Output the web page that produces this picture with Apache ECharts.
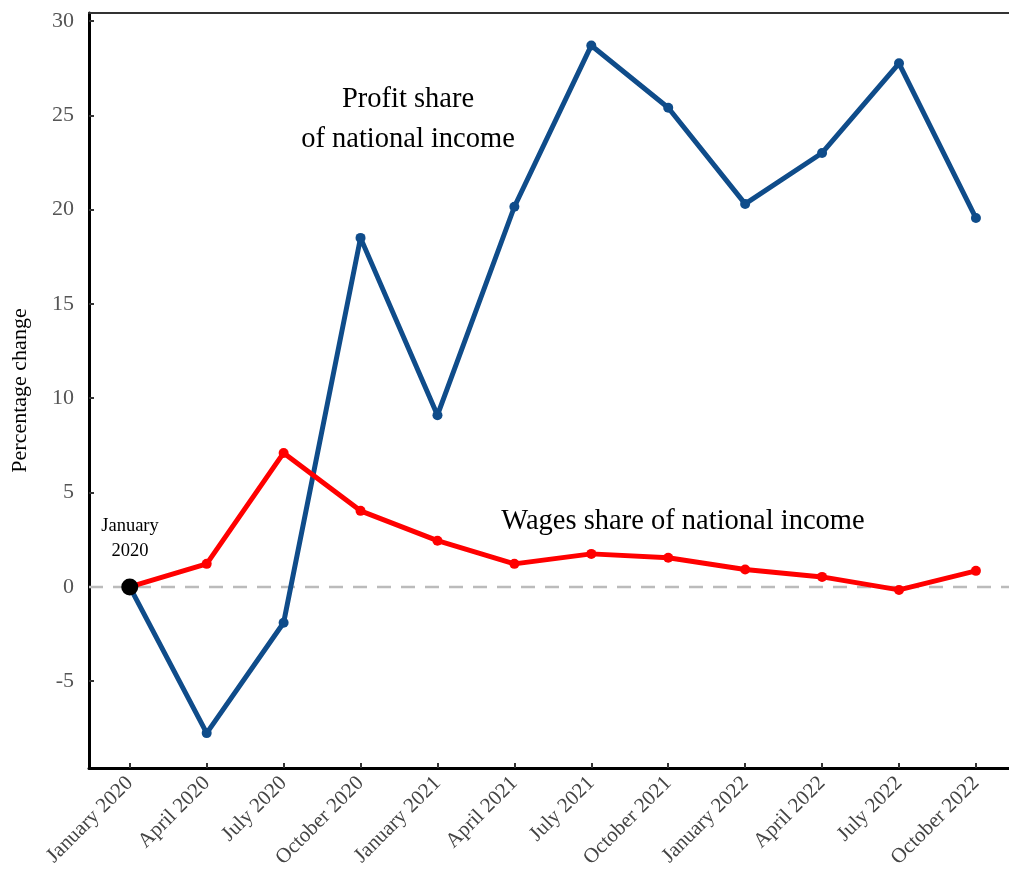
<!DOCTYPE html>
<html>
<head>
<meta charset="utf-8">
<script src="https://cdn.jsdelivr.net/npm/echarts@6/dist/echarts.min.js"></script>
<style>
  html, body { margin: 0; padding: 0; background: #fff; }
  #chart { width: 1009px; height: 878px; }
</style>
</head>
<body>
<div id="chart"></div>
<script>
var categories = ['January 2020', 'April 2020', 'July 2020', 'October 2020',
    'January 2021', 'April 2021', 'July 2021', 'October 2021',
    'January 2022', 'April 2022', 'July 2022', 'October 2022'];
var profitShare = [0, -7.75, -1.9, 18.5, 9.1, 20.15, 28.7, 25.4, 20.3, 23.0, 27.75, 19.55];
var wagesShare = [0, 1.22, 7.1, 4.03, 2.45, 1.22, 1.75, 1.54, 0.92, 0.53, -0.16, 0.85];
var yTicks = [-5, 0, 5, 10, 15, 20, 25, 30];

var serif = '"Liberation Serif", "DejaVu Serif", serif';

var chart = echarts.init(document.getElementById('chart'));

function pairs(arr) {
    return arr.map(function (v, i) { return [i, v]; });
}
var xIdx = categories.map(function (c, i) { return i; });

var option = {
    backgroundColor: '#fff',
    animation: false,
    grid: { left: 89, right: 0, top: 13, bottom: 110, outerBoundsMode: 'none', containLabel: false },
    xAxis: [{
        type: 'value',
        min: -0.53,
        max: 11.43,
        position: 'bottom',
        splitLine: { show: false },
        axisLine: { show: true, onZero: false, lineStyle: { color: '#000', width: 3 } },
        axisTick: {
            show: true, inside: true, length: 5,
            lineStyle: { color: '#333', width: 2 },
            customValues: xIdx
        },
        axisLabel: {
            rotate: 45,
            fontFamily: serif,
            fontSize: 21,
            color: '#444',
            margin: 12,
            customValues: xIdx,
            formatter: function (v) { return categories[Math.round(v)] || ''; }
        }
    }, {
        type: 'value',
        min: -0.53,
        max: 11.43,
        position: 'top',
        splitLine: { show: false },
        axisLine: { show: true, onZero: false, lineStyle: { color: '#333', width: 2 } },
        axisTick: { show: false },
        axisLabel: { show: false }
    }],
    yAxis: {
        type: 'value',
        min: -9.6,
        max: 30.42,
        name: 'Percentage change',
        nameLocation: 'middle',
        nameGap: 58,
        nameTextStyle: { fontFamily: serif, fontSize: 22, color: '#000' },
        splitLine: { show: false },
        axisLine: { show: true, onZero: false, lineStyle: { color: '#000', width: 3 } },
        axisTick: {
            show: true, inside: true, length: 5,
            lineStyle: { color: '#333', width: 2 },
            customValues: yTicks
        },
        axisLabel: {
            fontFamily: serif,
            fontSize: 22,
            color: '#555',
            margin: 15,
            customValues: yTicks
        }
    },
    series: [{
        name: 'Zero',
        type: 'line',
        data: [[-0.53, 0], [11.43, 0]],
        symbol: 'none',
        silent: true,
        z: 1,
        lineStyle: { color: '#bbb', width: 2.5, type: [14, 10] }
    }, {
        name: 'Profit share of national income',
        type: 'line',
        data: pairs(profitShare),
        symbol: 'circle',
        symbolSize: 10,
        z: 3,
        itemStyle: { color: '#0f4c8a' },
        lineStyle: { color: '#0f4c8a', width: 5 }
    }, {
        name: 'Wages share of national income',
        type: 'line',
        data: pairs(wagesShare),
        symbol: 'circle',
        symbolSize: 10,
        z: 4,
        itemStyle: { color: '#ff0000' },
        lineStyle: { color: '#ff0000', width: 5 }
    }, {
        name: 'Start',
        type: 'scatter',
        data: [[0, 0]],
        symbolSize: 17,
        z: 5,
        itemStyle: { color: '#000', opacity: 1 }
    }],
    graphic: [{
        type: 'text',
        x: 408, y: 120,
        z: 10,
        style: {
            text: 'Profit share\nof national income',
            fontFamily: serif, fontSize: 28.5, fill: '#000',
            align: 'center', verticalAlign: 'middle', lineHeight: 40
        }
    }, {
        type: 'text',
        x: 683, y: 522,
        z: 10,
        style: {
            text: 'Wages share of national income',
            fontFamily: serif, fontSize: 28.5, fill: '#000',
            align: 'center', verticalAlign: 'middle'
        }
    }, {
        type: 'text',
        x: 130, y: 539,
        z: 10,
        style: {
            text: 'January\n2020',
            fontFamily: serif, fontSize: 18.5, fill: '#000',
            align: 'center', verticalAlign: 'middle', lineHeight: 25
        }
    }]
};

chart.setOption(option);
</script>
</body>
</html>
